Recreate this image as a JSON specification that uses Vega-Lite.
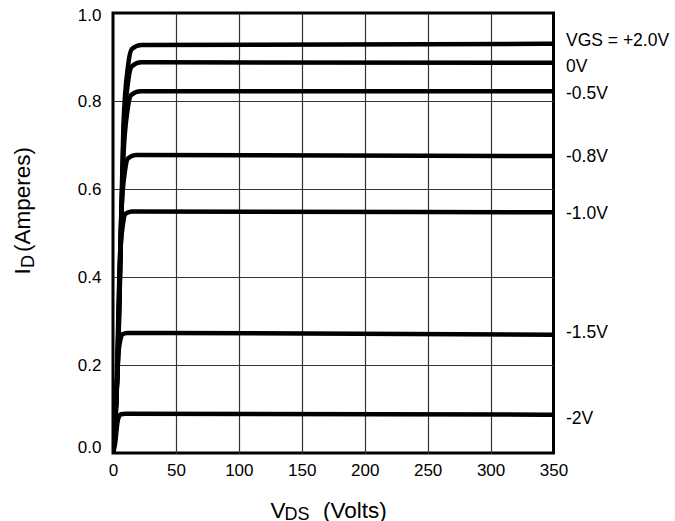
{
  "$schema": "https://vega.github.io/schema/vega-lite/v6.json",
  "width": 440.5,
  "height": 440,
  "autosize": "none",
  "padding": {"left": 113, "top": 13, "right": 121.5, "bottom": 68},
  "background": "white",
  "config": {
    "view": {"stroke": "black", "strokeWidth": 3},
    "font": "Liberation Sans",
    "axis": {
      "labelFont": "Liberation Sans",
      "titleFont": "Liberation Sans",
      "labelColor": "black",
      "titleColor": "black",
      "titleFontWeight": "normal",
      "labelFontSize": 17,
      "titleFontSize": 22.5,
      "ticks": false,
      "domain": false,
      "labelOverlap": false,
      "labelFlush": false
    }
  },
  "datasets": {
    "curves": [
      {"vgs": "+2.0V", "V": 0, "I": 0},
      {"vgs": "+2.0V", "V": 3.75, "I": 0.204},
      {"vgs": "+2.0V", "V": 8.25, "I": 0.742},
      {"vgs": "+2.0V", "V": 12, "I": 0.881},
      {"vgs": "+2.0V", "V": 15, "I": 0.918},
      {"vgs": "+2.0V", "V": 22.5, "I": 0.927},
      {"vgs": "+2.0V", "V": 350, "I": 0.93},
      {"vgs": "0V", "V": 0, "I": 0},
      {"vgs": "0V", "V": 3.75, "I": 0.195},
      {"vgs": "0V", "V": 8.25, "I": 0.71},
      {"vgs": "0V", "V": 12, "I": 0.844},
      {"vgs": "0V", "V": 15, "I": 0.879},
      {"vgs": "0V", "V": 22.5, "I": 0.888},
      {"vgs": "0V", "V": 350, "I": 0.887},
      {"vgs": "-0.5V", "V": 0, "I": 0},
      {"vgs": "-0.5V", "V": 3.6, "I": 0.181},
      {"vgs": "-0.5V", "V": 8.0, "I": 0.658},
      {"vgs": "-0.5V", "V": 11.6, "I": 0.781},
      {"vgs": "-0.5V", "V": 14.5, "I": 0.814},
      {"vgs": "-0.5V", "V": 21.8, "I": 0.822},
      {"vgs": "-0.5V", "V": 350, "I": 0.822},
      {"vgs": "-0.8V", "V": 0, "I": 0},
      {"vgs": "-0.8V", "V": 3, "I": 0.149},
      {"vgs": "-0.8V", "V": 6.6, "I": 0.542},
      {"vgs": "-0.8V", "V": 9.6, "I": 0.643},
      {"vgs": "-0.8V", "V": 12, "I": 0.67},
      {"vgs": "-0.8V", "V": 18, "I": 0.677},
      {"vgs": "-0.8V", "V": 350, "I": 0.675},
      {"vgs": "-1.0V", "V": 0, "I": 0},
      {"vgs": "-1.0V", "V": 2.5, "I": 0.121},
      {"vgs": "-1.0V", "V": 5.5, "I": 0.439},
      {"vgs": "-1.0V", "V": 8, "I": 0.522},
      {"vgs": "-1.0V", "V": 10, "I": 0.544},
      {"vgs": "-1.0V", "V": 15, "I": 0.549},
      {"vgs": "-1.0V", "V": 350, "I": 0.547},
      {"vgs": "-1.5V", "V": 0, "I": 0},
      {"vgs": "-1.5V", "V": 1.9, "I": 0.06},
      {"vgs": "-1.5V", "V": 4.1, "I": 0.218},
      {"vgs": "-1.5V", "V": 6, "I": 0.259},
      {"vgs": "-1.5V", "V": 7.5, "I": 0.27},
      {"vgs": "-1.5V", "V": 11.3, "I": 0.273},
      {"vgs": "-1.5V", "V": 350, "I": 0.269},
      {"vgs": "-2V", "V": 0, "I": 0},
      {"vgs": "-2V", "V": 1.6, "I": 0.02},
      {"vgs": "-2V", "V": 3.6, "I": 0.071},
      {"vgs": "-2V", "V": 5.2, "I": 0.085},
      {"vgs": "-2V", "V": 6.5, "I": 0.088},
      {"vgs": "-2V", "V": 9.8, "I": 0.089},
      {"vgs": "-2V", "V": 350, "I": 0.087}
    ],
    "labels": [
      {"label": "VGS = +2.0V", "I": 0.936},
      {"label": "0V", "I": 0.878},
      {"label": "-0.5V", "I": 0.817},
      {"label": "-0.8V", "I": 0.672},
      {"label": "-1.0V", "I": 0.544},
      {"label": "-1.5V", "I": 0.272},
      {"label": "-2V", "I": 0.078}
    ]
  },
  "layer": [
    {
      "data": {"name": "curves"},
      "mark": {"type": "line", "color": "black", "strokeWidth": 4.5, "interpolate": "monotone", "clip": true},
      "encoding": {
        "x": {
          "field": "V", "type": "quantitative",
          "scale": {"domain": [0, 350], "nice": false, "zero": false},
          "axis": {
            "orient": "bottom",
            "values": [0, 50, 100, 150, 200, 250, 300, 350],
            "grid": true, "gridColor": "#333", "gridWidth": 1.2,
            "gridOpacity": {"condition": {"test": "datum.value == 0 || datum.value == 350", "value": 0}, "value": 1},
            "labelPadding": 9,
            "title": "V",
            "titleX": 157, "titleY": 64, "titleAlign": "left", "titleBaseline": "alphabetic", "titleAngle": 0
          }
        },
        "y": {
          "field": "I", "type": "quantitative",
          "scale": {"domain": [0, 1], "nice": false, "zero": false},
          "axis": {
            "orient": "left",
            "values": [0, 0.2, 0.4, 0.6, 0.8, 1.0],
            "format": ".1f",
            "grid": true, "gridColor": "#333", "gridWidth": 1.2,
            "gridOpacity": {"condition": {"test": "datum.value == 0 || datum.value == 1", "value": 0}, "value": 1},
            "labelPadding": 12,
            "labelOffset": {"condition": [{"test": "datum.value == 0", "value": -6}, {"test": "datum.value == 1", "value": 2.5}], "value": 0},
            "title": "I",
            "titleX": -84, "titleY": 261, "titleAlign": "left", "titleBaseline": "alphabetic", "titleAngle": -90
          }
        },
        "detail": {"field": "vgs"}
      }
    },
    {
      "data": {"name": "labels"},
      "mark": {"type": "text", "align": "left", "baseline": "middle", "dx": 12.5, "fontSize": 17.5, "font": "Liberation Sans", "color": "black"},
      "encoding": {
        "x": {
          "datum": 350, "type": "quantitative",
          "axis": {
            "orient": "bottom", "labels": false, "grid": false,
            "title": "DS", "titleFontSize": 18,
            "titleX": 171, "titleY": 66.5, "titleAlign": "left", "titleBaseline": "alphabetic", "titleAngle": 0
          }
        },
        "y": {
          "field": "I", "type": "quantitative",
          "axis": {
            "orient": "left", "labels": false, "grid": false,
            "title": "D", "titleFontSize": 18,
            "titleX": -80, "titleY": 254.5, "titleAlign": "left", "titleBaseline": "alphabetic", "titleAngle": -90
          }
        },
        "text": {"field": "label"}
      }
    },
    {
      "data": {"name": "labels"},
      "mark": {"type": "point", "opacity": 0},
      "encoding": {
        "x": {
          "datum": 350, "type": "quantitative",
          "axis": {
            "orient": "bottom", "labels": false, "grid": false,
            "title": "(Volts)",
            "titleX": 209.5, "titleY": 64, "titleAlign": "left", "titleBaseline": "alphabetic", "titleAngle": 0
          }
        },
        "y": {
          "field": "I", "type": "quantitative",
          "axis": {
            "orient": "left", "labels": false, "grid": false,
            "title": "(Amperes)",
            "titleX": -84, "titleY": 238.5, "titleAlign": "left", "titleBaseline": "alphabetic", "titleAngle": -90
          }
        }
      }
    }
  ],
  "resolve": {"axis": {"x": "independent", "y": "independent"}}
}
